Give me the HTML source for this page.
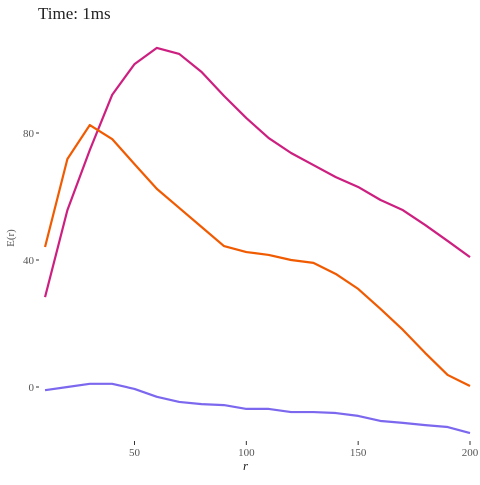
<!DOCTYPE html>
<html><head><meta charset="utf-8"><style>
body{margin:0;background:#fff;}
svg text{font-family:"Liberation Serif",serif;}
</style></head><body>
<svg id="chart" width="480" height="480" viewBox="0 0 480 480" xmlns="http://www.w3.org/2000/svg">
<rect width="480" height="480" fill="#fff"/>
<text x="38" y="19" font-size="17" fill="#222">Time: 1ms</text>
<text x="243" y="470" font-size="13" font-style="italic" fill="#222">r</text>
<text transform="translate(14,238) rotate(-90)" font-size="11" fill="#555" text-anchor="middle">E(r)</text>
<g id="axes"></g>
<g id="series"></g>
</svg>
<script>
const xs=[10,20,30,40,50,60,70,80,90,100,110,120,130,140,150,160,170,180,190,200];
const magenta=[28.3,55.7,74.6,92,101.7,106.8,104.9,99.2,91.7,84.7,78.4,73.7,69.9,66.1,63,58.9,55.7,51,46,40.9];
const orange=[44.1,71.8,82.5,78.1,70.2,62.4,56.4,50.4,44.4,42.5,41.6,40,39.1,35.6,30.9,24.6,18,10.7,3.8,0.3];
const purple=[-1,0,1,1,-0.6,-3.1,-4.7,-5.4,-5.7,-6.9,-6.9,-7.9,-7.9,-8.2,-9.1,-10.7,-11.3,-12,-12.6,-14.5];
const xTicks=[50,100,150,200];
const yTicks=[0,40,80];
const NS="http://www.w3.org/2000/svg";
function sx(v){return 134.5+(v-50)*(335.5/150);}
function sy(v){return 387-v*3.175;}
const axes=document.getElementById('axes');
xTicks.forEach(t=>{
  const l=document.createElementNS(NS,'line');
  l.setAttribute('x1',sx(t));l.setAttribute('x2',sx(t));l.setAttribute('y1',441);l.setAttribute('y2',445);
  l.setAttribute('stroke','#333');
  
  
  axes.appendChild(l);
  const tx=document.createElementNS(NS,'text');
  tx.setAttribute('x',sx(t));tx.setAttribute('y',456);tx.setAttribute('text-anchor','middle');
  tx.setAttribute('font-size','11');tx.setAttribute('fill','#555');
  tx.textContent=t;
  
  
  axes.appendChild(tx);
});
yTicks.forEach(t=>{
  const l=document.createElementNS(NS,'line');
  l.setAttribute('x1',36);l.setAttribute('x2',39);l.setAttribute('y1',sy(t));l.setAttribute('y2',sy(t));
  l.setAttribute('stroke','#333');
  
  
  axes.appendChild(l);
  const tx=document.createElementNS(NS,'text');
  tx.setAttribute('x',34);tx.setAttribute('y',sy(t)+4);tx.setAttribute('text-anchor','end');
  tx.setAttribute('font-size','11');tx.setAttribute('fill','#555');
  tx.textContent=t;
  
  
  axes.appendChild(tx);
});
const ser=document.getElementById('series');
[[magenta,'#cc1f80','series-magenta'],[orange,'#f05a00','series-orange'],[purple,'#7b68ee','series-purple']].forEach(([d,c,n])=>{
  const p=document.createElementNS(NS,'polyline');
  p.setAttribute('points',xs.map((x,i)=>sx(x)+','+sy(d[i])).join(' '));
  p.setAttribute('fill','none');p.setAttribute('stroke',c);p.setAttribute('stroke-width','2.2');
  p.setAttribute('stroke-linejoin','round');
  
  
  ser.appendChild(p);
});
</script>
</body></html>
